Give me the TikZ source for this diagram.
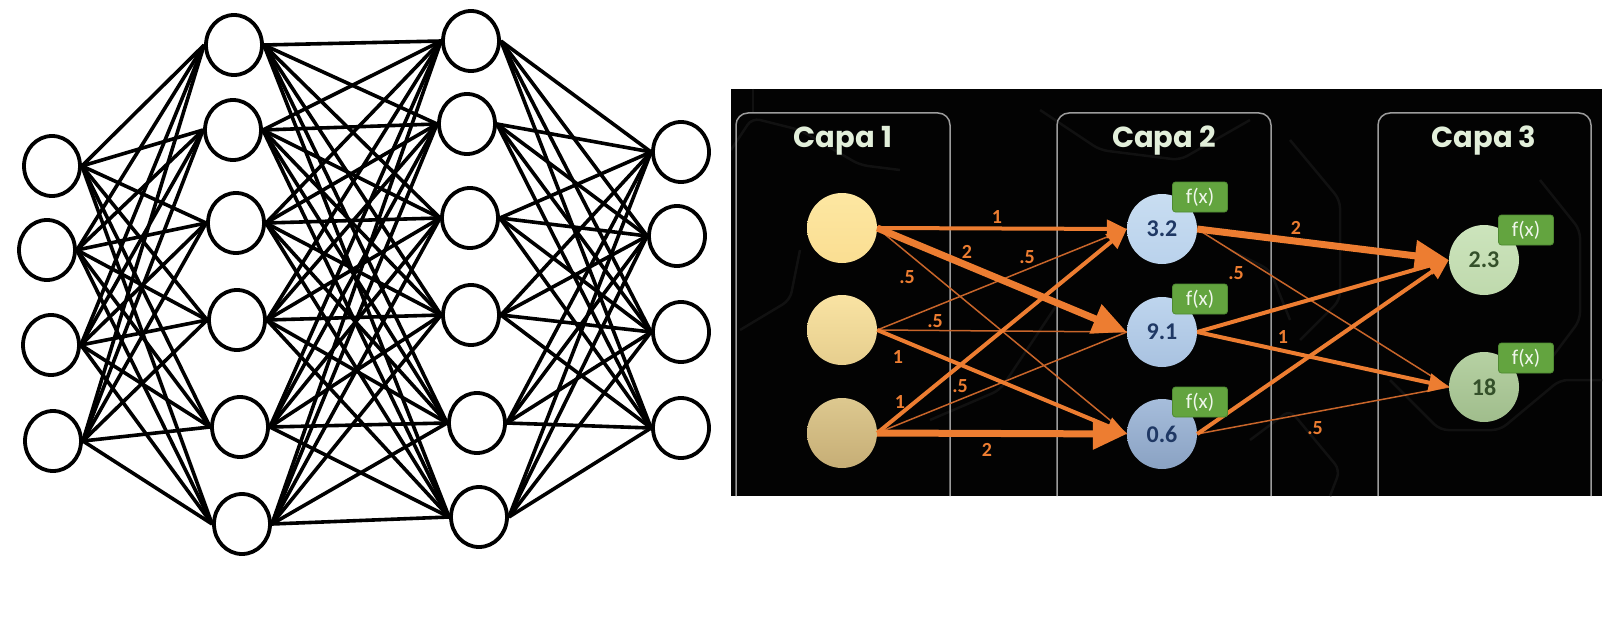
\documentclass[tikz,border=0pt]{standalone}
\usepackage{fontspec}
\newfontfamily\calib{Carlito}
\newfontfamily\titlef{Poppins}
\usetikzlibrary{shapes.geometric,arrows.meta}
\definecolor{orng}{HTML}{ED7D31}
\definecolor{orngdk}{HTML}{C8652A}
\definecolor{panel}{HTML}{030303}
\definecolor{boxline}{HTML}{9C9C9C}
\definecolor{titlec}{HTML}{E2EFDA}
\definecolor{bgl}{HTML}{111111}
\definecolor{fgreen}{HTML}{63A43F}
\definecolor{fgreendk}{HTML}{4F8A32}
\definecolor{fxtext}{HTML}{F0F7EC}
\definecolor{navy}{HTML}{1F3864}
\definecolor{dgreen}{HTML}{34502A}
\definecolor{yA1}{HTML}{FDE7A2}\definecolor{yA2}{HTML}{FADE92}
\definecolor{yB1}{HTML}{F9E3A3}\definecolor{yB2}{HTML}{E6CE8E}
\definecolor{yC1}{HTML}{DDC88F}\definecolor{yC2}{HTML}{C6AE76}
\definecolor{bD1}{HTML}{C8DDF1}\definecolor{bD2}{HTML}{BAD2EC}
\definecolor{bE1}{HTML}{BED5EE}\definecolor{bE2}{HTML}{A9C2E0}
\definecolor{bF1}{HTML}{A6BDDB}\definecolor{bF2}{HTML}{8AA2C3}
\definecolor{gG1}{HTML}{CCE4BC}\definecolor{gG2}{HTML}{BFD9AD}
\definecolor{gH1}{HTML}{B6D1A3}\definecolor{gH2}{HTML}{A0BD8C}
\tikzset{
  neuron/.style={ellipse, draw=black, line width=3.8pt, fill=white, minimum width=56pt, minimum height=60pt, inner sep=0pt},
  netline/.style={draw=black, line width=3.6pt},
  ball/.style={circle, minimum size=70pt, inner sep=0pt, font=\calib\bfseries\fontsize{24}{24}\selectfont},
  fxbox/.style={rectangle, rounded corners=3pt, fill=fgreen, draw=fgreendk, line width=0.8pt, minimum width=55pt, minimum height=30pt, inner sep=0pt, text=fxtext, font=\calib\fontsize{21}{21}\selectfont},
  wtwo/.style={draw=orng, line width=7pt, -{Triangle[length=34pt,width=30pt]}},
  wone/.style={draw=orng, line width=4pt, -{Triangle[length=20pt,width=18pt]}},
  whalf/.style={draw=orngdk, line width=1.5pt},
  wlbl/.style={text=orng, inner sep=0pt, font=\calib\bfseries\fontsize{20}{20}\selectfont},
  capa/.style={text=titlec, anchor=base, inner sep=0pt, font=\titlef\bfseries\fontsize{29}{29}\selectfont},
  layerbox/.style={draw=boxline, line width=1.5pt, rounded corners=12pt},
  bgline/.style={draw=bgl, line width=2.5pt, rounded corners=8pt}
}
\begin{document}
\begin{tikzpicture}[x=1pt,y=-1pt]
\useasboundingbox (0,0) rectangle (1622,623);
\fill[white] (0,0) rectangle (1622,623);

% ---------------- left network ----------------
\node[neuron] (a1) at (52,166) {};
\node[neuron] (a2) at (47,250) {};
\node[neuron] (a3) at (51,345) {};
\node[neuron] (a4) at (53,441) {};
\node[neuron] (b1) at (234,45) {};
\node[neuron] (b2) at (233,130) {};
\node[neuron] (b3) at (236,223) {};
\node[neuron] (b4) at (237,320) {};
\node[neuron] (b5) at (240,427) {};
\node[neuron] (b6) at (242,524) {};
\node[neuron] (c1) at (471,41) {};
\node[neuron] (c2) at (467,124) {};
\node[neuron] (c3) at (470,218) {};
\node[neuron] (c4) at (471,315) {};
\node[neuron] (c5) at (477,423) {};
\node[neuron] (c6) at (479,517) {};
\node[neuron] (d1) at (681,152) {};
\node[neuron] (d2) at (677,236) {};
\node[neuron] (d3) at (681,332) {};
\node[neuron] (d4) at (681,428) {};
\foreach \i in {1,...,4}{\foreach \j in {1,...,6}{\draw[netline] (a\i.east) -- (b\j.west);}}
\foreach \i in {1,...,6}{\foreach \j in {1,...,6}{\draw[netline] (b\i.east) -- (c\j.west);}}
\foreach \i in {1,...,6}{\foreach \j in {1,...,4}{\draw[netline] (c\i.east) -- (d\j.west);}}

% ---------------- right panel ----------------
\fill[panel] (731,89) rectangle (1602,496);
\begin{scope}
\clip (731,89) rectangle (1602,496);
\draw[bgline] (731,150) -- (752,118) -- (800,130) -- (860,165) -- (900,170);
\draw[bgline] (753,89) -- (753,112);
\draw[bgline] (740,330) -- (790,300) -- (800,250);
\draw[bgline] (930,420) -- (1000,390) -- (1040,330) -- (1060,300);
\draw[bgline] (1040,110) -- (1100,150) -- (1180,160) -- (1250,120);
\draw[bgline] (1290,140) -- (1340,200) -- (1340,300) -- (1300,340);
\draw[bgline] (1390,380) -- (1440,430) -- (1500,430) -- (1560,380) -- (1602,380);
\draw[bgline] (1540,180) -- (1580,230) -- (1580,320) -- (1550,360);
\draw[bgline] (1250,440) -- (1290,410) -- (1340,470) -- (1330,496);
\draw[bgline] (1230,250) -- (1270,270) -- (1290,320);
\end{scope}

\draw[layerbox] (736,496) -- (736,113) -- (950,113) -- (950,496);
\draw[layerbox] (1057,496) -- (1057,113) -- (1271,113) -- (1271,496);
\draw[layerbox] (1378,496) -- (1378,113) -- (1591,113) -- (1591,496);

\node[capa] (t1) at (843,148) {Capa 1};
\node[capa] (t2) at (1164,148) {Capa 2};
\node[capa] (t3) at (1484,148) {Capa 3};

% nodes
\node[ball, top color=yA1, bottom color=yA2] (A) at (842,228) {};
\node[ball, top color=yB1, bottom color=yB2] (B) at (842,330) {};
\node[ball, top color=yC1, bottom color=yC2] (C) at (842,433) {};
\node[ball, top color=bD1, bottom color=bD2, text=navy] (D) at (1162,229) {3.2};
\node[ball, top color=bE1, bottom color=bE2, text=navy] (E) at (1162,332) {9.1};
\node[ball, top color=bF1, bottom color=bF2, text=navy] (F) at (1162,434) {0.6};
\node[ball, top color=gG1, bottom color=gG2, text=dgreen] (G) at (1484,260) {2.3};
\node[ball, top color=gH1, bottom color=gH2, text=dgreen] (H) at (1484,387) {18};

% connectors layer 1 -> 2
\draw[whalf] (A.east) -- (F.west);
\draw[whalf] (B.east) -- (D.west);
\draw[whalf] (B.east) -- (E.west);
\draw[whalf] (C.east) -- (E.west);
\draw[wone] (A.east) -- (D.west);
\draw[wone] (B.east) -- (F.west);
\draw[wone] (C.east) -- (D.west);
\draw[wtwo] (A.east) -- (E.west);
\draw[wtwo] (C.east) -- (F.west);
% connectors layer 2 -> 3
\draw[whalf] (D.east) -- (H.west);
\draw[whalf] (F.east) -- (H.west);
\draw[wone] (E.east) -- (G.west);
\draw[wone] (E.east) -- (H.west);
\draw[wone] (F.east) -- (G.west);
\draw[wtwo] (D.east) -- (G.west);

% weight labels
\node[wlbl] (l1) at (997,217) {1};
\node[wlbl] (l2) at (967,252) {2};
\node[wlbl] (l3) at (907,277) {.5};
\node[wlbl] (l4) at (1027,257) {.5};
\node[wlbl] (l5) at (935,321) {.5};
\node[wlbl] (l6) at (898,357) {1};
\node[wlbl] (l7) at (900,402) {1};
\node[wlbl] (l8) at (960,386) {.5};
\node[wlbl] (l9) at (987,450) {2};
\node[wlbl] (l10) at (1296,228) {2};
\node[wlbl] (l11) at (1236,273) {.5};
\node[wlbl] (l12) at (1283,337) {1};
\node[wlbl] (l13) at (1315,428) {.5};

% f(x) tags
\node[fxbox] (f1) at (1200,197) {f(x)};
\node[fxbox] (f2) at (1200,299) {f(x)};
\node[fxbox] (f3) at (1200,402) {f(x)};
\node[fxbox] (f4) at (1526,230) {f(x)};
\node[fxbox] (f5) at (1526,358) {f(x)};
\end{tikzpicture}
\end{document}
